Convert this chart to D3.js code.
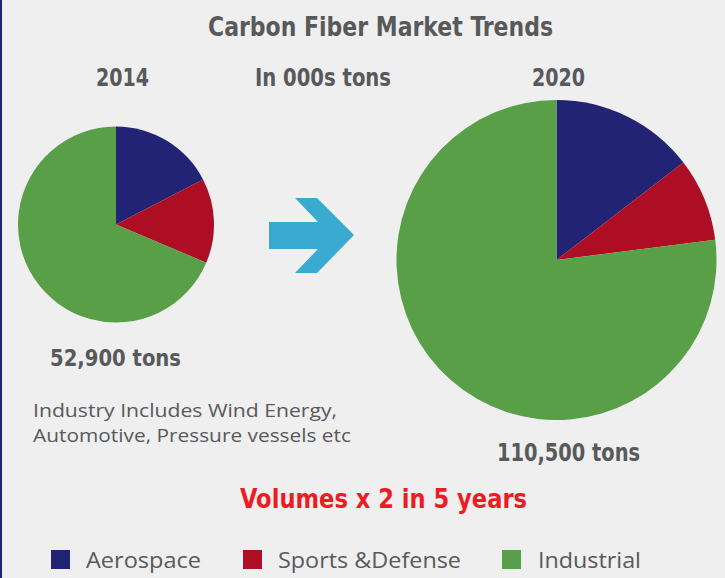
<!DOCTYPE html>
<html>
<head>
<meta charset="utf-8">
<script src="https://cdn.jsdelivr.net/npm/d3@7"></script>
<style>
html,body{margin:0;padding:0;background:#efefef;}
svg{display:block;}
</style>
</head>
<body>
<script>
// ---- data ----
const categories = ["Aerospace", "Sports &Defense", "Industrial"];
const colors = ["#232375", "#ad0e23", "#589f48"];
const values2014 = [9.2, 7.4, 36.3];     // thousand tons (total 52.9)
const values2020 = [16.1, 9.3, 85.1];    // thousand tons (total 110.5)
const totals = ["52,900 tons", "110,500 tons"];
const years = ["2014", "2020"];

const W = 725, H = 578;
const svg = d3.select("body").append("svg").attr("width", W).attr("height", H);
svg.append("rect").attr("width", W).attr("height", H).attr("fill", "#efefef");
svg.append("rect").attr("x", 0).attr("y", 0).attr("width", 2).attr("height", H).attr("fill", "#232375");

const grey = "#58595b";
const condFont = "'Liberation Sans Narrow','DejaVu Sans Condensed','Roboto Condensed','Liberation Sans',sans-serif";
const regFont = "'Open Sans','Noto Sans','DejaVu Sans',sans-serif";

function txt(s, x, y, size, len, opts = {}) {
  const t = svg.append("text")
    .attr("x", x).attr("y", y)
    .attr("font-family", opts.reg ? regFont : condFont)
    .attr("font-weight", opts.reg ? "normal" : "bold")
    .attr("font-size", size)
    .attr("fill", opts.fill || grey)
    .attr("textLength", len)
    .attr("lengthAdjust", "spacingAndGlyphs")
    .text(s);
  return t;
}

// titles
txt("Carbon Fiber Market Trends", 208, 36, 26, 345);
txt(years[0], 96, 86, 24, 53);
txt("In 000s tons", 255, 86, 24, 136);
txt(years[1], 532, 86, 24, 53);

// pies
const pie = d3.pie().sort(null).value(d => d);
function drawPie(vals, cx, cy, r) {
  const arc = d3.arc().innerRadius(0).outerRadius(r);
  svg.append("g").attr("transform", `translate(${cx},${cy})`)
    .selectAll("path").data(pie(vals)).join("path")
    .attr("d", arc)
    .attr("fill", (d, i) => colors[i]);
}
drawPie(values2014, 116, 224.5, 98);
drawPie(values2020, 556.5, 260, 160);

// arrow
const arrowPts = [[269,222],[318,222],[295,198],[317,198],[354,235],[317,273],[295,273],[318,249],[269,249]];
svg.append("path").attr("d", d3.line()(arrowPts) + "Z").attr("fill", "#3aaad0");

// totals & notes
txt(totals[0], 50, 366, 23, 131);
txt("Industry Includes Wind Energy,", 33, 417, 18, 304, {reg: true});
txt("Automotive, Pressure vessels etc", 33, 442, 18, 318, {reg: true});
txt(totals[1], 497, 461, 24, 143);
txt("Volumes x 2 in 5 years", 240, 508, 26, 287, {fill: "#ed1c24"});

// legend
const legX = [51, 243, 502];
const legTextX = [86, 278, 538];
const legLen = [115, 183, 103];
categories.forEach((c, i) => {
  svg.append("rect").attr("x", legX[i]).attr("y", 550).attr("width", 19).attr("height", 19).attr("fill", colors[i]);
  txt(c, legTextX[i], 568, 22, legLen[i], {reg: true});
});
</script>
</body>
</html>
